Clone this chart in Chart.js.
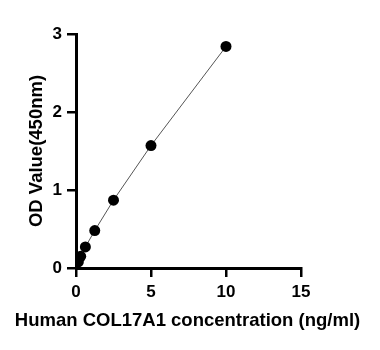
<!DOCTYPE html>
<html>
<head>
<meta charset="utf-8">
<script src="https://cdn.jsdelivr.net/npm/chart.js@4/dist/chart.umd.min.js"></script>
<style>
  html, body { margin: 0; padding: 0; background: #fff; }
  canvas { display: block; }
</style>
</head>
<body>
<canvas id="myChart" width="380" height="350"></canvas>
<script>
// standard curve: concentration (ng/ml) vs OD at 450nm
const concentration = [0.156, 0.3125, 0.625, 1.25, 2.5, 5, 10];
const odValue = [0.08, 0.15, 0.27, 0.48, 0.87, 1.57, 2.84];
const xTicks = [0, 5, 10, 15];
const yTicks = [0, 1, 2, 3];
const xTitle = 'Human COL17A1 concentration (ng/ml)';
const yTitle = 'OD Value(450nm)';

const points = concentration.map((c, i) => ({ x: c, y: odValue[i] }));
const font = "'Liberation Sans', Arial, sans-serif";

const axisGrid = {
  drawOnChartArea: false,
  drawTicks: true,
  tickLength: 9,
  color: '#000',
  lineWidth: 2.5
};

// the built-in x title gets squeezed to the plot width, so draw it here
const xTitlePlugin = {
  id: 'xTitle',
  afterDraw(chart) {
    const ctx = chart.ctx;
    const x = chart.scales.x;
    ctx.save();
    ctx.font = "bold 18.5px " + font;
    ctx.fillStyle = '#000';
    ctx.textAlign = 'center';
    ctx.textBaseline = 'middle';
    ctx.fillText(xTitle, (x.left + x.right) / 2 - 1, x.top + 53);
    ctx.restore();
  }
};

var chartContext = document.getElementById('myChart').getContext('2d');
var myChart = new Chart(chartContext, {
  type: 'scatter',
  data: {
    datasets: [{
      data: points,
      showLine: true,
      borderColor: '#555',
      borderWidth: 1,
      pointRadius: 5.5,
      pointBackgroundColor: '#000',
      pointBorderColor: '#000',
      pointBorderWidth: 0
    }]
  },
  plugins: [xTitlePlugin],
  options: {
    responsive: false,
    animation: false,
    layout: { padding: { top: 34, right: 79, left: 22, bottom: 0 } },
    plugins: { legend: { display: false }, tooltip: { enabled: false } },
    scales: {
      x: {
        type: 'linear',
        min: 0,
        max: 15,
        afterBuildTicks: (s) => { s.ticks = xTicks.map(v => ({ value: v })); },
        afterFit: (s) => { s.height = 82; },
        border: { color: '#000', width: 3 },
        grid: axisGrid,
        ticks: { color: '#000', padding: 5, font: { family: font, size: 17, weight: 'bold' } },
        title: { display: false }
      },
      y: {
        type: 'linear',
        min: 0,
        max: 3,
        afterBuildTicks: (s) => { s.ticks = yTicks.map(v => ({ value: v })); },
        afterFit: (s) => { s.width = 54; },
        border: { color: '#000', width: 3 },
        grid: axisGrid,
        ticks: { color: '#000', padding: 5, font: { family: font, size: 17, weight: 'bold' } },
        title: {
          display: true,
          text: yTitle,
          color: '#000',
          padding: { bottom: 0 },
          font: { family: font, size: 18.5, weight: 'bold' }
        }
      }
    }
  }
});
</script>
</body>
</html>
